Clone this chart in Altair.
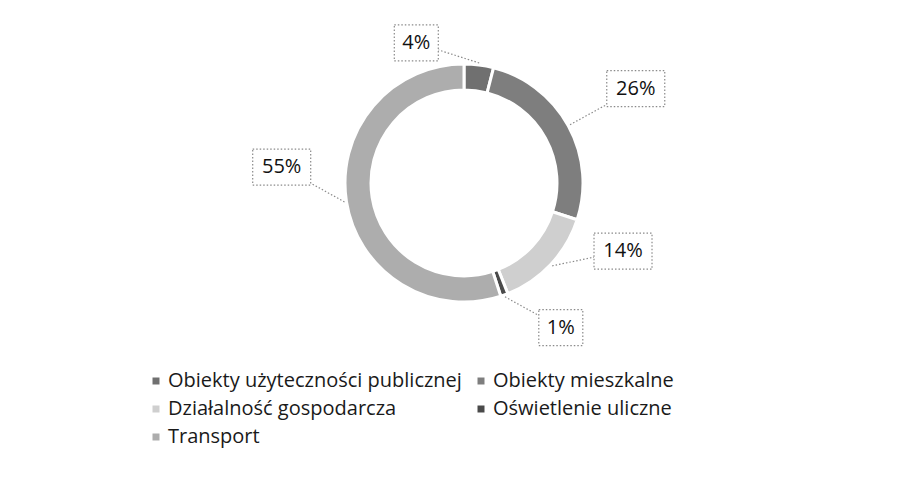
import altair as alt
import numpy as np
import pandas as pd

# ---- data -------------------------------------------------------------
categories = [
    "Obiekty użyteczności publicznej",
    "Obiekty mieszkalne",
    "Działalność gospodarcza",
    "Oświetlenie uliczne",
    "Transport",
]
shares = [4, 26, 14, 1, 55]
labels = ["4%", "26%", "14%", "1%", "55%"]

# ---- style -------------------------------------------------------------
colors = ["#707070", "#7e7e7e", "#cfcfcf", "#4a4a4a", "#adadad"]
# callout placement: angular nudge from slice centre (deg) and distance (px)
label_nudge = [-26, 0, -20, -14, 14]
label_radius = [148, 196, 173, 174, 183]

W, H = 898, 475
CX, CY = 456, 175
R_OUT, R_IN = 119, 93
FONT = "Open Sans"

# ---- derived tables ------------------------------------------------------
df = pd.DataFrame({"category": categories, "share": shares, "idx": range(len(shares))})

sh = np.array(shares, dtype=float)
mid = (np.cumsum(sh) - sh / 2) / sh.sum() * 360.0
ang = np.radians(mid + np.array(label_nudge))
rad = np.array(label_radius, dtype=float)
lx, ly = rad * np.sin(ang), rad * np.cos(ang)
ax_, ay_ = (R_OUT + 2) * np.sin(np.radians(mid)), (R_OUT + 2) * np.cos(np.radians(mid))
hw = np.array([8 + 7 * len(s) for s in labels], dtype=float)
hh = np.full(len(labels), 18.0)

dx, dy = ax_ - lx, ay_ - ly
t = np.minimum(hw / np.maximum(np.abs(dx), 1e-9), hh / np.maximum(np.abs(dy), 1e-9))
ex, ey = lx + t * dx, ly + t * dy

lab = pd.DataFrame({
    "label": labels, "lx": lx, "ly": ly,
    "bx1": lx - hw, "bx2": lx + hw, "by1": ly - hh, "by2": ly + hh,
    "ax": ax_, "ay": ay_, "ex": ex, "ey": ey,
})

xs = alt.Scale(domain=[-CX, W - CX], nice=False, zero=False)
ys = alt.Scale(domain=[-(H - CY), CY], nice=False, zero=False)

donut = alt.Chart(df).mark_arc(
    outerRadius=R_OUT, innerRadius=R_IN, stroke="white", strokeWidth=3
).encode(
    theta=alt.Theta("share:Q", stack=True),
    order=alt.Order("idx:Q"),
    color=alt.Color(
        "category:N",
        scale=alt.Scale(domain=categories, range=colors),
        sort=categories,
        legend=alt.Legend(
            title=None, orient="none", legendX=138, legendY=363, columns=2,
            direction="horizontal",
            symbolType="square", symbolSize=49, symbolStrokeWidth=0,
            labelFont=FONT, labelFontSize=20, labelColor="#1a1a1a",
            labelLimit=0, rowPadding=8, columnPadding=9, labelOffset=2,
            padding=0,
        ),
    ),
    x=alt.value(CX),
    y=alt.value(CY),
)

leaders = alt.Chart(lab).mark_rule(
    stroke="#8a8a8a", strokeWidth=1.2, strokeDash=[1.5, 2]
).encode(
    x=alt.X("ax:Q", scale=xs, axis=None),
    y=alt.Y("ay:Q", scale=ys, axis=None),
    x2="ex:Q",
    y2="ey:Q",
)

boxes = alt.Chart(lab).mark_rect(
    fill="white", stroke="#8a8a8a", strokeWidth=1.2, strokeDash=[1.5, 2]
).encode(
    x=alt.X("bx1:Q", scale=xs, axis=None),
    x2="bx2:Q",
    y=alt.Y("by1:Q", scale=ys, axis=None),
    y2="by2:Q",
)

texts = alt.Chart(lab).mark_text(
    font=FONT, fontSize=20, color="#111111", baseline="middle", align="center"
).encode(
    x=alt.X("lx:Q", scale=xs, axis=None),
    y=alt.Y("ly:Q", scale=ys, axis=None),
    text="label:N",
)

chart = alt.layer(donut, leaders, boxes, texts).properties(
    width=W, height=H, autosize=alt.AutoSizeParams(type="none"), padding=0,
    background="white",
).configure_view(stroke=None)

chart.save("out.html", embed_options={"renderer": "svg", "actions": False})
